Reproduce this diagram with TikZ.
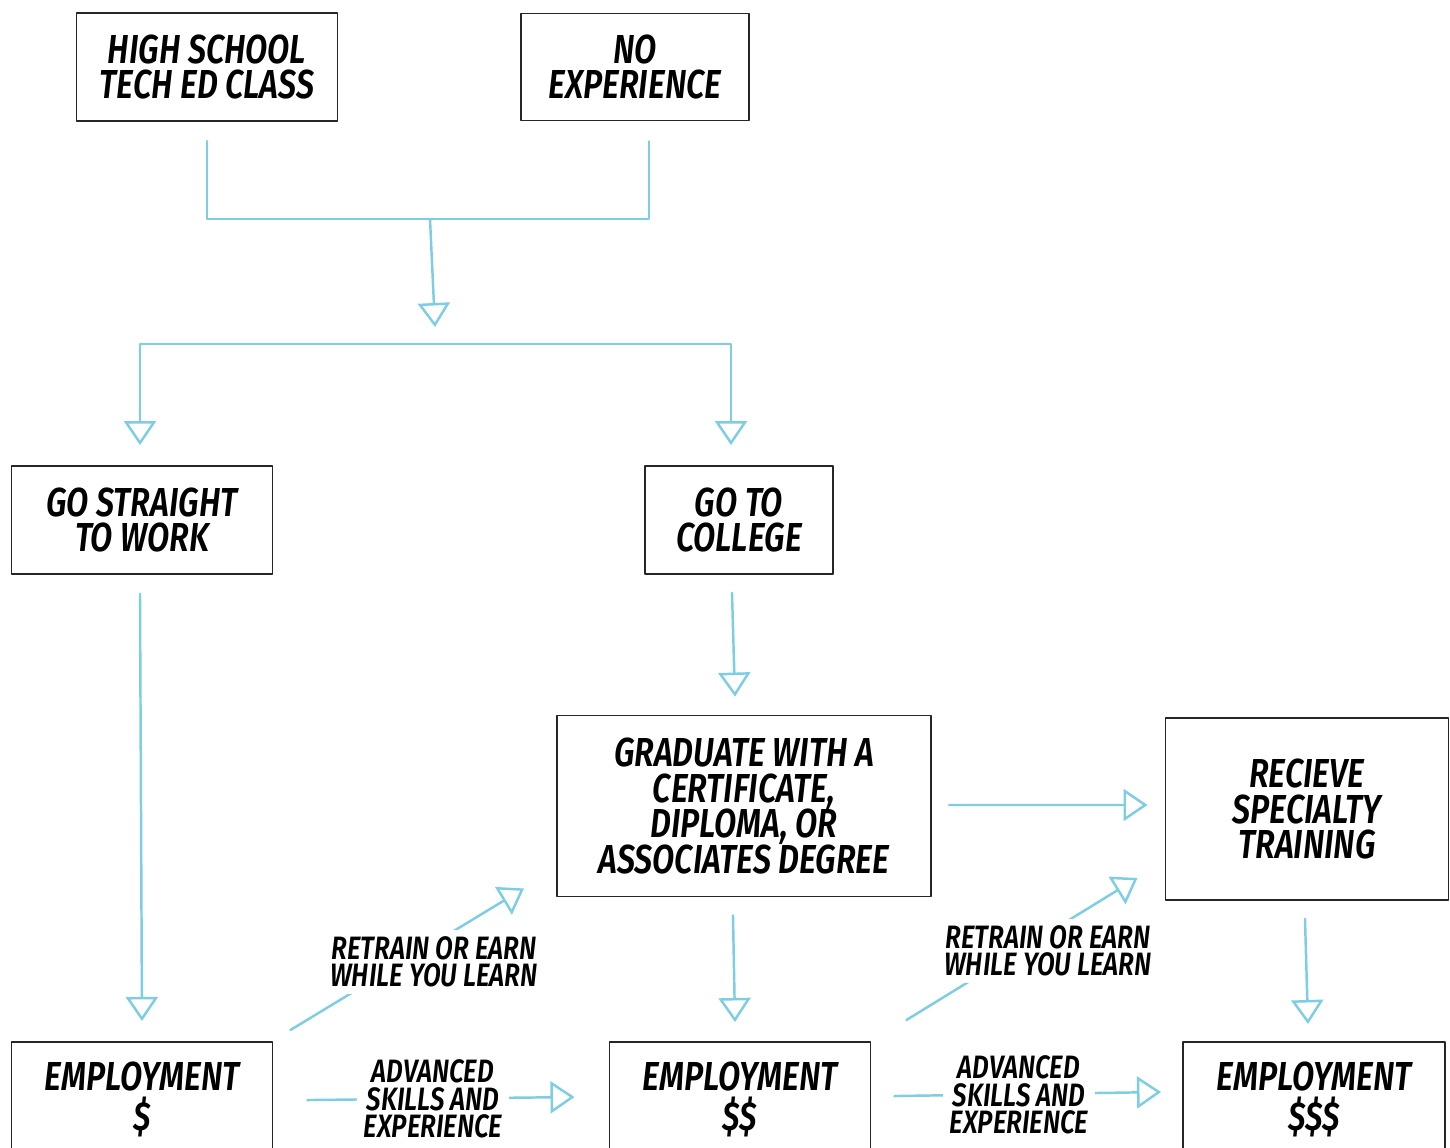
\documentclass[tikz,border=0pt]{standalone}
\usepackage{fontspec}
\setmainfont{Fira Sans}[FakeStretch=0.8, BoldFont={* SemiBold}, BoldItalicFont={* SemiBold Italic}]
\usetikzlibrary{arrows.meta}
\definecolor{chalk}{RGB}{125,205,228}
\newcommand\boxfont{\fontsize{11.5}{10.2}\selectfont\bfseries\itshape}
\newcommand\notefont{\fontsize{9.2}{7.8}\selectfont\bfseries\itshape}
\begin{document}
\begin{tikzpicture}[x=0.01cm, y=-0.01cm, line join=round, line cap=round]
	\tikzset{box/.style={draw=black!85, line width=0.5pt, inner sep=0pt, align=center, font=\boxfont},
		flow/.style={chalk, line width=0.7pt},
		tip/.style={flow, -{Triangle[open, length=0.24cm, width=0.32cm, line width=0.7pt]}},
		note/.style={align=center, font=\notefont, fill=white, inner sep=2pt}}
	\path[use as bounding box, clip] (0,0) rectangle (1450,1147);
	% boxes
	\node[box, minimum width=2.61cm, minimum height=1.08cm] (hs) at (207,67) {HIGH SCHOOL\\TECH ED CLASS};
	\node[box, minimum width=2.28cm, minimum height=1.07cm] (noexp) at (635,67) {NO\\EXPERIENCE};
	\node[box, minimum width=2.61cm, minimum height=1.08cm] (work) at (142,520) {GO STRAIGHT\\TO WORK};
	\node[box, minimum width=1.88cm, minimum height=1.08cm] (college) at (739,520) {GO TO\\COLLEGE};
	\node[box, minimum width=3.74cm, minimum height=1.81cm] (grad) at (744,806) {GRADUATE WITH A\\CERTIFICATE,\\DIPLOMA, OR\\ASSOCIATES DEGREE};
	\node[box, minimum width=2.83cm, minimum height=1.82cm] (special) at (1307,809) {RECIEVE\\SPECIALTY\\TRAINING};
	\foreach \n/\x/\w/\cash in {emp1/142/2.61/\$, emp2/740/2.61/\$\$, emp3/1314/2.62/\$\$\$}
	\node[box, anchor=north, minimum width=\w cm, inner ysep=0.2cm] (\n) at (\x,1041) {EMPLOYMENT\\[1.2pt]\cash};
	% merge and split
	\coordinate (join) at (430,219);
	\coordinate (fork) at (435,344);
	\draw[flow] ([yshift=-0.19cm]hs.south) |- (join) -| ([xshift=0.14cm, yshift=-0.2cm]noexp.south);
	\draw[tip] (join) -- ([yshift=0.17cm]fork);
	\draw[tip] (fork) -| ([xshift=-0.02cm, yshift=0.2cm]work.north);
	\draw[tip] (fork) -| ([xshift=-0.08cm, yshift=0.2cm]college.north);
	% down the columns
	\draw[tip] ([xshift=-0.02cm, yshift=-0.19cm]work.south) -- ([yshift=0.2cm]emp1.north);
	\draw[tip] ([xshift=-0.07cm, yshift=-0.18cm]college.south) -- ([xshift=-0.09cm, yshift=0.18cm]grad.north);
	\draw[tip] ([xshift=-0.11cm, yshift=-0.18cm]grad.south) -- ([xshift=-0.05cm, yshift=0.19cm]emp2.north);
	\draw[tip] ([xshift=-0.02cm, yshift=-0.18cm]special.south) -- ([xshift=-0.06cm, yshift=0.17cm]emp3.north);
	\draw[tip] ([xshift=0.17cm, yshift=0.01cm]grad.east) -- ([xshift=-0.17cm, yshift=0.04cm]special.west);
	% retrain and advance
	\draw[tip] ([xshift=0.17cm, yshift=0.11cm]emp1.north east) -- ([xshift=-0.32cm, yshift=0.09cm]grad.south west);
	\draw[tip] ([xshift=0.35cm, yshift=0.21cm]emp2.north east) -- ([xshift=-0.27cm, yshift=0.23cm]special.south west);
	\draw[tip] ([xshift=0.34cm, yshift=-0.59cm]emp1.north east) -- ([xshift=-0.34cm, yshift=-0.56cm]emp2.north west);
	\draw[tip] ([xshift=0.23cm, yshift=-0.55cm]emp2.north east) -- ([xshift=-0.21cm, yshift=-0.51cm]emp3.north west);
	\node[note] (retrainA) at (434,962) {RETRAIN OR EARN\\WHILE YOU LEARN};
	\node[note] (retrainB) at (1048,951) {RETRAIN OR EARN\\WHILE YOU LEARN};
	\node[note] (skillsA) at (433,1099) {ADVANCED\\SKILLS AND\\EXPERIENCE};
	\node[note] (skillsB) at (1019,1095) {ADVANCED\\SKILLS AND\\EXPERIENCE};
\end{tikzpicture}
\end{document}
